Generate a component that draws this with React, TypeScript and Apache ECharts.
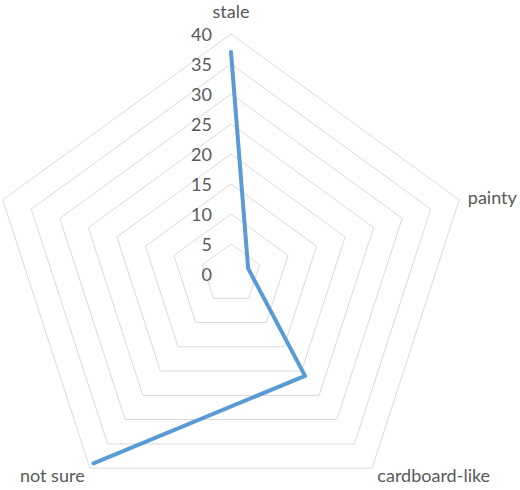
import React, { useEffect, useRef } from "react";
import * as echarts from "echarts";

const categories = ["stale", "painty", "cardboard-like", "not sure", ""];
const values = [37, 3, 21, 39, null];
const axisMax = 40;
const splitCount = 8;

export default function App() {
  const ref = useRef<HTMLDivElement>(null);
  useEffect(() => {
    const chart = echarts.init(ref.current!, null, { renderer: "svg" });
    const n = categories.length;
    // radar indicators run counter-clockwise; reorder so they read clockwise
    const order = [0, ...Array.from({ length: n - 1 }, (_, i) => n - 1 - i)];
    const indicator = order.map((i, k) => ({
      name: categories[i],
      min: 0,
      max: axisMax,
      ...(k === 0 ? { axisLabel: { show: true } } : {}),
    }));
    const center = [231, 274];
    const radius = 240;
    const font = "Lato";
    const txt = { color: "#595959", fontSize: 18, fontFamily: font };
    chart.setOption({
      animation: false,
      radar: {
        center,
        radius,
        shape: "polygon",
        splitNumber: splitCount,
        startAngle: 90,
        indicator,
        axisName: {
          ...txt,
          formatter: (name: string) => (name === categories[0] ? `{top|${name}}` : name),
          rich: { top: { ...txt, padding: [0, 0, 5, 0] } },
        },
        axisNameGap: 9,
        axisLine: { show: false },
        axisTick: { show: false },
        axisLabel: { show: false, ...txt, margin: 19 },
        splitLine: { lineStyle: { color: "#d9d9d9", width: 1 } },
        splitArea: { show: false },
      },
      polar: { center, radius },
      angleAxis: {
        type: "category",
        data: categories,
        startAngle: 90 + 180 / n,
        clockwise: true,
        show: false,
      },
      radiusAxis: { type: "value", min: 0, max: axisMax, show: false },
      series: [
        {
          type: "line",
          coordinateSystem: "polar",
          data: values,
          symbol: "none",
          connectNulls: false,
          lineStyle: { color: "#5b9bd5", width: 4, cap: "round", join: "round" },
        },
      ],
    });
    return () => chart.dispose();
  }, []);
  return (
    <div
      ref={ref}
      style={{ position: "absolute", left: 0, top: 0, width: 520, height: 490 }}
    />
  );
}
